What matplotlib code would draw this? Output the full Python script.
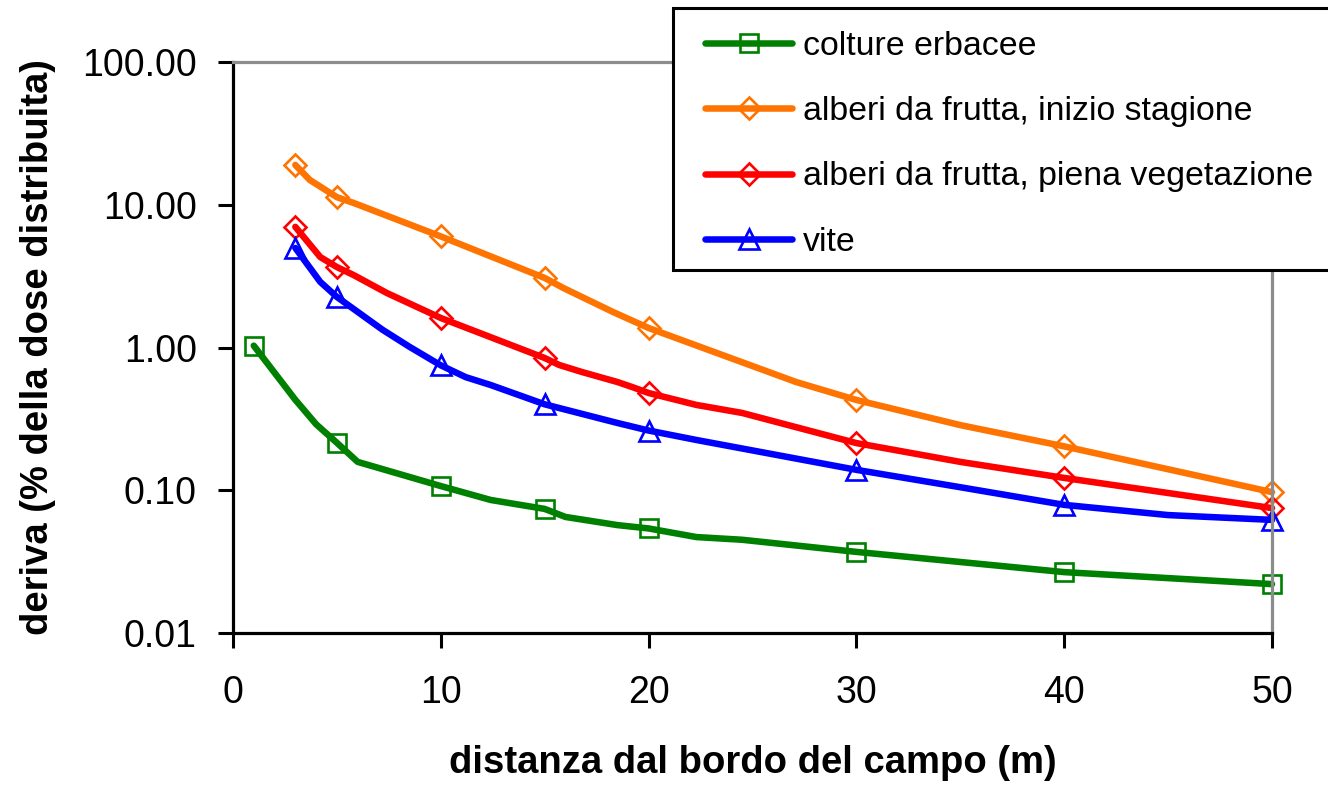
import matplotlib
matplotlib.use("Agg")
import matplotlib.pyplot as plt
from matplotlib import font_manager
from matplotlib.patches import Rectangle
from matplotlib.ticker import FixedLocator, FixedFormatter

# ---------------- data ----------------
labels = ["colture erbacee",
          "alberi da frutta, inizio stagione",
          "alberi da frutta, piena vegetazione",
          "vite"]

# colture erbacee
x_erb = [1, 3, 4, 5, 6, 10, 12.4, 15, 16, 18.5, 20, 22.3, 24.5, 30, 40, 50]
y_erb = [1.03, 0.43, 0.29, 0.215, 0.158, 0.107, 0.0855, 0.074, 0.065, 0.057, 0.054,
         0.047, 0.045, 0.037, 0.0267, 0.022]
m_erb = [0, 3, 5, 7, 10, 13, 14, 15]

# alberi da frutta, inizio stagione
x_ini = [3, 3.7, 5, 5.8, 10, 15, 15.9, 18.3, 20, 27.1, 30, 35, 40, 50]
y_ini = [19.0, 14.9, 11.3, 10.3, 6.0, 3.07, 2.61, 1.77, 1.37, 0.573, 0.429, 0.286,
         0.203, 0.097]
m_ini = [0, 2, 4, 5, 8, 10, 12, 13]

# alberi da frutta, piena vegetazione
x_pie = [3, 4.2, 5, 5.8, 7.4, 10, 15, 15.7, 16.8, 18.5, 19.2, 20, 22.3, 24.5, 30, 35,
         40, 50]
y_pie = [7.0, 4.3, 3.66, 3.22, 2.41, 1.61, 0.844, 0.754, 0.673, 0.573, 0.529, 0.48,
         0.396, 0.348, 0.214, 0.158, 0.122, 0.075]
m_pie = [0, 2, 5, 6, 11, 14, 16, 17]

# vite
x_vit = [3, 4.2, 5, 7.2, 8.5, 10, 11.2, 12.4, 15, 18.5, 20, 22.3, 30, 35, 40, 45, 50]
y_vit = [4.98, 2.88, 2.26, 1.33, 1.01, 0.75, 0.62, 0.546, 0.40, 0.296, 0.262, 0.225,
         0.139, 0.105, 0.079, 0.067, 0.062]
m_vit = [0, 2, 5, 8, 10, 12, 14, 16]

x_ticks = [0, 10, 20, 30, 40, 50]
y_ticks = [0.01, 0.1, 1, 10, 100]
y_ticklabels = ["0.01", "0.10", "1.00", "10.00", "100.00"]

colors = ["#008000", "#FF7300", "#FF0000", "#0000FF"]
markers = ["s", "D", "D", "^"]
msizes = [13, 11, 11, 14.5]

# ---------------- fonts ----------------
avail = {f.name for f in font_manager.fontManager.ttflist}
base = "Liberation Sans" if "Liberation Sans" in avail else "DejaVu Sans"
plt.rcParams["font.family"] = [base, "DejaVu Sans"]

W, H = 1328, 789
fig = plt.figure(figsize=(W / 100, H / 100), dpi=100)
ax = fig.add_axes([233 / W, 1 - 633 / H, (1272 - 233) / W, (633 - 62) / H])

series = [(x_erb, y_erb, m_erb), (x_ini, y_ini, m_ini), (x_pie, y_pie, m_pie),
          (x_vit, y_vit, m_vit)]
handles = []
for (xs, ys, me), c, mk, ms, lab in zip(series, colors, markers, msizes, labels):
    h, = ax.plot(xs, ys, color=c, lw=4.7, marker=mk, markevery=me, ms=ms,
                 mfc="none", mec=c, mew=1.9, solid_joinstyle="round",
                 solid_capstyle="round", label=lab, clip_on=False)
    handles.append(h)

ax.set_yscale("log")
ax.set_xlim(0, 50)
ax.set_ylim(0.01, 100)
ax.yaxis.set_major_locator(FixedLocator(y_ticks))
ax.yaxis.set_major_formatter(FixedFormatter(y_ticklabels))
ax.yaxis.set_minor_locator(FixedLocator([]))
ax.set_xticks(x_ticks)

for s in ["left", "bottom"]:
    ax.spines[s].set_color("black")
    ax.spines[s].set_linewidth(2.3)
for s in ["top", "right"]:
    ax.spines[s].set_color("#8c8c8c")
    ax.spines[s].set_linewidth(2.3)

ax.tick_params(axis="both", which="major", direction="out", length=10.5, width=2.2,
               color="black", labelsize=27)
ax.tick_params(axis="y", pad=15.5)
ax.tick_params(axis="x", pad=20)

ax.set_xlabel("distanza dal bordo del campo (m)", fontsize=27.5, fontweight="bold",
              labelpad=24)
ax.set_ylabel("deriva (% della dose distribuita)", fontsize=27.5, fontweight="bold",
              labelpad=19)

# legend frame (extends past the right edge of the figure, as in the original)
frame = Rectangle((673 / W, 1 - 270 / H), (1400 - 673) / W, (270 - 8) / H,
                  transform=fig.transFigure, facecolor="white", edgecolor="black",
                  linewidth=2.2, zorder=4, clip_on=False)
fig.add_artist(frame)

leg_fs = 24.4
leg = fig.legend(handles=handles, loc="upper left",
                 bbox_to_anchor=(705 / W, 1 - 31 / H),
                 bbox_transform=fig.transFigure,
                 prop={"size": leg_fs}, frameon=False,
                 handlelength=2.57, handletextpad=0.32, labelspacing=1.01,
                 borderpad=0, borderaxespad=0)
leg.set_zorder(5)

fig.savefig("out.png", dpi=100)
